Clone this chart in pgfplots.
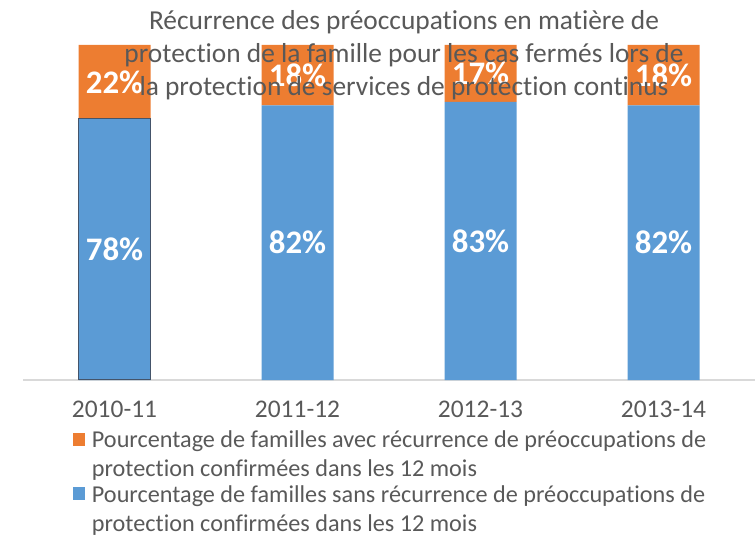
\documentclass[border=0pt]{standalone}
\usepackage{pgfplots}
\pgfplotsset{compat=1.18}
\usepackage{fontspec}
\setmainfont[Ligatures=NoCommon]{Carlito}
\definecolor{cblue}{HTML}{5B9BD5}
\definecolor{corange}{HTML}{ED7D31}
\definecolor{ctext}{HTML}{595959}
\definecolor{cgrid}{HTML}{D9D9D9}
\definecolor{cedge}{HTML}{44546A}
\begin{document}
\begin{tikzpicture}
\useasboundingbox (-23bp,-160bp) rectangle (732bp,380bp);
\pgfplotsset{base/.style={scale only axis, width=732bp, height=335bp,
  xmin=-0.5, xmax=3.5, ymin=0, ymax=100, at={(0bp,0bp)}, anchor=south west}}
\begin{axis}[base, ybar stacked, bar width=72bp,
  axis y line=none, axis x line*=bottom,
  x axis line style={cgrid, line width=1.2bp, -},
  xtick={0,1,2,3}, xticklabels={2010-11,2011-12,2012-13,2013-14},
  major tick length=0pt,
  xticklabel style={font=\fontsize{25.5}{28}\selectfont, text=ctext, yshift=-17bp},
  reverse legend,
  legend style={at={(0.068,-0.145)}, anchor=north west, draw=none, fill=none,
    inner sep=0pt, font=\fontsize{24.3}{29.5}\selectfont, text=ctext,
    cells={anchor=west, align=left}, row sep=3bp,
    /tikz/every odd column/.append style={column sep=5bp}},
  legend image code/.code={\fill[#1] (0bp,9bp) rectangle (12bp,22bp);},
  ]
\addplot[fill=cblue, draw=none] coordinates {(0,78) (1,82) (2,83) (3,82)};
\addplot[fill=corange, draw=none] coordinates {(0,22) (1,18) (2,17) (3,18)};
\legend{Pourcentage de familles sans récurrence de préoccupations de\\protection confirmées dans les 12 mois,
        Pourcentage de familles avec récurrence de préoccupations de\\protection confirmées dans les 12 mois}
\end{axis}
\begin{axis}[base, hide axis]
\addplot[ybar, bar width=72bp, bar shift=0pt, draw=cedge, line width=1.5bp, fill=none]
  coordinates {(0,78)};
\addplot[only marks, mark=none, point meta=explicit symbolic, nodes near coords,
  nodes near coords style={text=white, anchor=center, font=\bfseries\fontsize{33}{38}\selectfont}]
  coordinates {(0,39) [78\%] (1,41) [82\%] (2,41.5) [83\%] (3,41) [82\%]
               (0,89) [22\%] (1,91) [18\%] (2,91.5) [17\%] (3,91) [18\%]};
\end{axis}
\node[align=center, text=ctext, font=\fontsize{27.5}{33}\selectfont] at (381bp,325bp)
  {Récurrence des préoccupations en matière de\\protection de la famille pour les cas fermés lors de\\la protection de services de protection continus};
\end{tikzpicture}
\end{document}
